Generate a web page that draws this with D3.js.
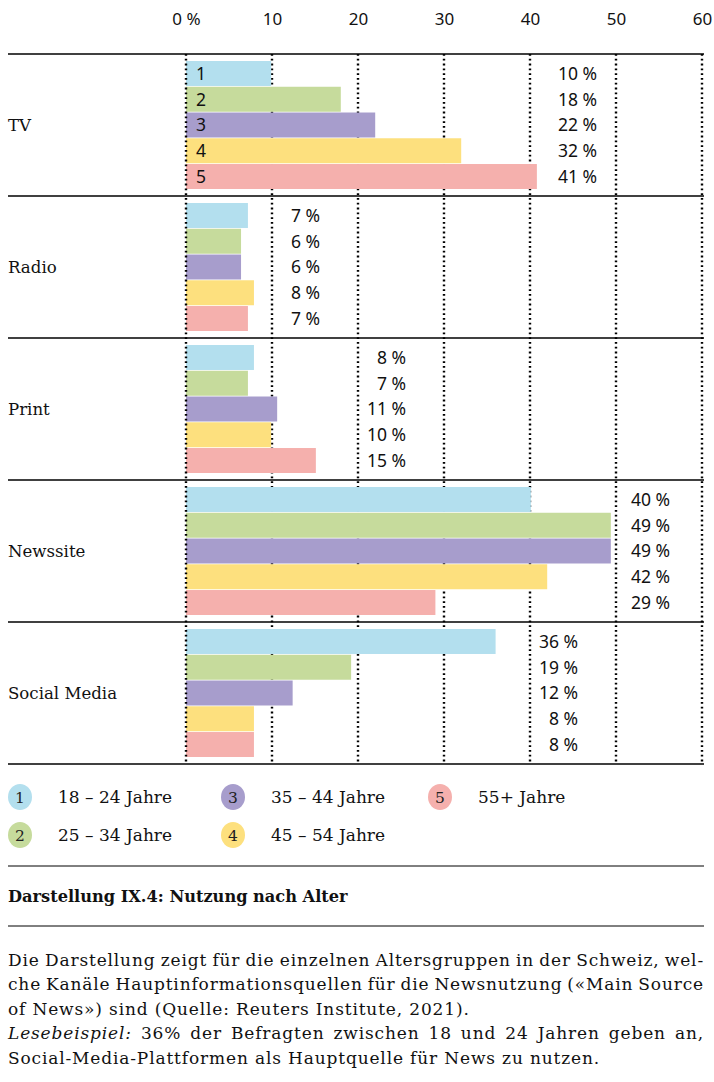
<!DOCTYPE html>
<html><head><meta charset="utf-8">
<script src="https://cdn.jsdelivr.net/npm/d3@7"></script>
<style>body{margin:0;background:#fff}</style>
</head><body><svg id="c" width="714" height="1082"></svg>
<script>
const categories = ["TV", "Radio", "Print", "Newssite", "Social Media"];
const ageGroups = ["18 – 24 Jahre", "25 – 34 Jahre", "35 – 44 Jahre", "45 – 54 Jahre", "55+ Jahre"];
const age18to24 = [9.9, 7.2, 7.9, 40.1, 36];
const age25to34 = [18, 6.4, 7.2, 49.4, 19.2];
const age35to44 = [22, 6.4, 10.6, 49.4, 12.4];
const age45to54 = [32, 7.9, 9.9, 42, 7.9];
const age55plus = [40.8, 7.2, 15.1, 29, 7.9];
const labelEnd = [47.8, 15.6, 25.6, 56.3, 45.6]; // right edge of value labels, in % units
const tickValues = [0, 10, 20, 30, 40, 50, 60];
const tickLabels = ["0 %", "10", "20", "30", "40", "50", "60"];
const colors = ["#b3dfee", "#c6db9c", "#a79dcc", "#fde07e", "#f5b0ad"];
const title = "Darstellung IX.4: Nutzung nach Alter";
const captionLines = [
  {t: "Die Darstellung zeigt für die einzelnen Altersgruppen in der Schweiz, wel-", j: true},
  {t: "che Kanäle Hauptinformationsquellen für die Newsnutzung («Main Source", j: true},
  {t: "of News») sind (Quelle: Reuters Institute, 2021).", j: false},
  {t: "36% der Befragten zwischen 18 und 24 Jahren geben an,", j: true, it: "Lesebeispiel:"},
  {t: "Social-Media-Plattformen als Hauptquelle für News zu nutzen.", j: false}
];

const series = [age18to24, age25to34, age35to44, age45to54, age55plus];
const SERIF = "'DejaVu Serif', serif";
const SANS = "'Noto Sans', 'Open Sans', sans-serif";

const svg = d3.select("#c");
const x = d3.scaleLinear().domain([0, 60]).range([186, 702]);
const yCat = d3.scaleBand().domain(categories).range([54, 764]);
const yAge = d3.scaleBand().domain(d3.range(5)).range([7, yCat.bandwidth() - 7]).paddingInner(0.03);

// top axis labels
const axis = d3.axisTop(x).tickValues(tickValues).tickSize(0)
  .tickFormat((d, i) => tickLabels[i]);
const ax = svg.append("g").attr("transform", "translate(0,28)").call(axis);
ax.select(".domain").remove();
ax.selectAll("text").attr("font-family", SANS).attr("font-size", 17).attr("fill", "#111").attr("dy", 0);

// gridlines (non-zero)
svg.append("g").selectAll("line").data(tickValues.slice(1)).join("line")
  .attr("x1", d => x(d)).attr("x2", d => x(d)).attr("y1", 54).attr("y2", 764)
  .attr("stroke", "#000").attr("stroke-width", 2.4).attr("stroke-dasharray", "1.8,3");

// bars
const groups = svg.append("g").selectAll("g").data(categories).join("g")
  .attr("transform", d => `translate(0,${yCat(d)})`);
groups.each(function(cat, ci) {
  const g = d3.select(this);
  const vals = series.map(s => s[ci]);
  g.selectAll("rect").data(vals).join("rect")
    .attr("x", x(0)).attr("y", (d, i) => yAge(i))
    .attr("width", d => x(d) - x(0)).attr("height", yAge.bandwidth())
    .attr("fill", (d, i) => colors[i]);
  g.selectAll("text.val").data(vals).join("text").attr("class", "val")
    .attr("x", x(labelEnd[ci])).attr("y", (d, i) => yAge(i) + yAge.bandwidth() / 2)
    .attr("dy", "0.36em").attr("text-anchor", "end")
    .attr("font-family", SANS).attr("font-size", 17.5).attr("fill", "#111")
    .text(d => Math.round(d) + " %");
  if (ci === 0) {
    g.selectAll("text.num").data(vals).join("text").attr("class", "num")
      .attr("x", x(0) + 15).attr("y", (d, i) => yAge(i) + yAge.bandwidth() / 2)
      .attr("dy", "0.36em").attr("text-anchor", "middle")
      .attr("font-family", SANS).attr("font-size", 17.5).attr("fill", "#111")
      .text((d, i) => i + 1);
  }
  g.append("text").attr("x", 8).attr("y", yCat.bandwidth() / 2).attr("dy", "0.35em")
    .attr("font-family", SERIF).attr("font-size", 16.6).attr("fill", "#111").text(cat);
});

// zero line on top
svg.append("line").attr("x1", x(0)).attr("x2", x(0)).attr("y1", 54).attr("y2", 764)
  .attr("stroke", "#000").attr("stroke-width", 2.4).attr("stroke-dasharray", "1.8,3");

// horizontal separators
const seps = [54].concat(categories.map(c => yCat(c) + yCat.bandwidth()));
svg.append("g").selectAll("line").data(seps).join("line")
  .attr("x1", 8).attr("x2", 704).attr("y1", d => d).attr("y2", d => d)
  .attr("stroke", "#000").attr("stroke-width", 1.5);

// legend
const legPos = [[20, 797], [20, 835], [233, 797], [233, 835], [440, 797]];
const leg = svg.append("g").selectAll("g").data(ageGroups).join("g")
  .attr("transform", (d, i) => `translate(${legPos[i][0]},${legPos[i][1]})`);
leg.append("ellipse").attr("rx", 12).attr("ry", 13).attr("fill", (d, i) => colors[i]);
leg.append("text").attr("dy", "0.36em").attr("text-anchor", "middle")
  .attr("font-family", SERIF).attr("font-size", 15.5).attr("fill", "#222").text((d, i) => i + 1);
leg.append("text").attr("x", 38).attr("dy", "0.36em")
  .attr("font-family", SERIF).attr("font-size", 17).attr("fill", "#111").text(d => d);

// title block
svg.append("line").attr("x1", 8).attr("x2", 704).attr("y1", 866).attr("y2", 866).attr("stroke", "#000").attr("stroke-width", 1);
svg.append("line").attr("x1", 8).attr("x2", 704).attr("y1", 926).attr("y2", 926).attr("stroke", "#000").attr("stroke-width", 1);
svg.append("text").attr("x", 8).attr("y", 896).attr("dy", "0.35em")
  .attr("font-family", SERIF).attr("font-weight", "bold").attr("font-size", 16.2).attr("fill", "#111").text(title);

// caption
const capTop = 960, lh = 24.4, capL = 8, capR = 704;
captionLines.forEach((ln, i) => {
  const t = svg.append("text").attr("x", capL).attr("y", capTop + i * lh).attr("dy", "0.35em")
    .attr("font-family", SERIF).attr("font-size", 17).attr("letter-spacing", 0.85).attr("fill", "#111");
  if (ln.it) {
    t.append("tspan").attr("font-style", "italic").text(ln.it);
    t.append("tspan").text(" " + ln.t);
  } else {
    t.text(ln.t);
  }
  if (ln.j) {
    const w = t.node().getComputedTextLength();
    const full = (ln.it ? ln.it + " " : "") + ln.t;
    const spaces = (full.match(/ /g) || []).length;
    if (spaces > 0) t.attr("word-spacing", (capR - capL - w) / spaces);
  }
});
</script></body></html>
